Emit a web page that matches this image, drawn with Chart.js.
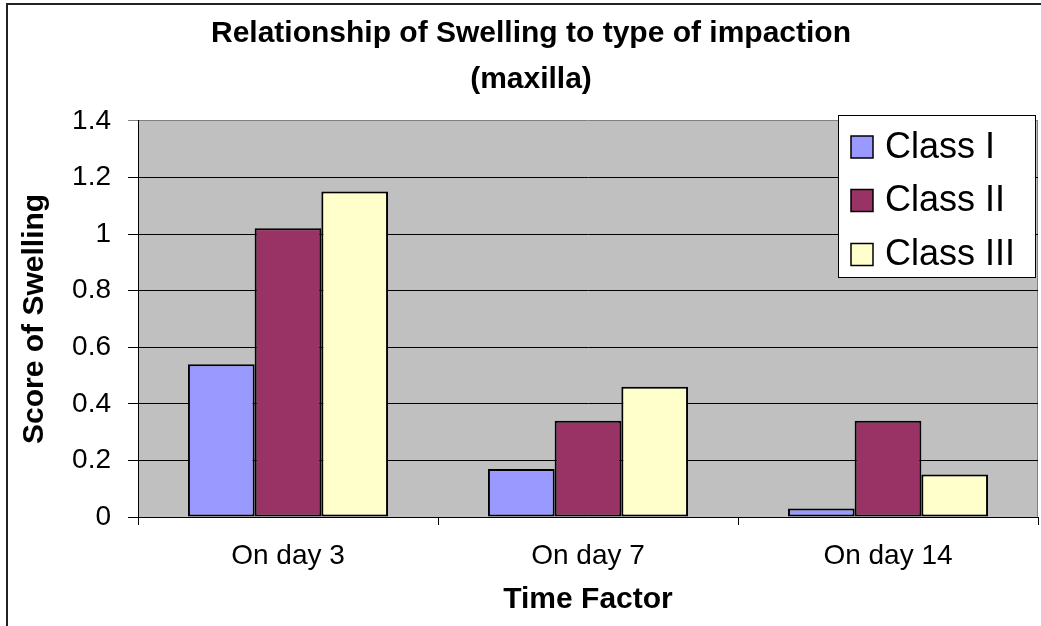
<!DOCTYPE html>
<html lang="en">
<head>
  <meta charset="UTF-8" />
  <title>Relationship of Swelling to type of impaction (maxilla)</title>
  <script src="https://cdn.jsdelivr.net/npm/chart.js"></script>
  <style>
    html, body { margin: 0; padding: 0; background: #fff; }
    .wrap { width: 1041px; height: 626px; position: relative; }
  </style>
</head>
<body>
  <div class="wrap"><canvas id="swellingChart"></canvas></div>

  <script>
    // data
    const days = ['On day 3', 'On day 7', 'On day 14'];
    const classNames = ['Class I', 'Class II', 'Class III'];
    const classI = [0.54, 0.17, 0.03];
    const classII = [1.02, 0.34, 0.34];
    const classIII = [1.15, 0.46, 0.15];
    const classColors = ['#9999FF', '#993366', '#FFFFCC'];

    const FONT = '"Liberation Sans", Arial, sans-serif';

    // grey plot area + outer frame
    const plotBackground = {
      id: 'plotBackground',
      beforeDraw(chart) {
        const { ctx, chartArea: a } = chart;
        ctx.save();
        ctx.fillStyle = '#C0C0C0';
        ctx.fillRect(a.left, a.top, a.right - a.left, a.bottom - a.top);
        ctx.strokeStyle = '#808080';
        ctx.lineWidth = 1;
        ctx.beginPath();
        ctx.moveTo(a.right - 0.5, a.top);
        ctx.lineTo(a.right - 0.5, a.bottom);
        ctx.stroke();
        ctx.fillStyle = '#222';
        ctx.fillRect(6, 3, 1041, 2);
        ctx.fillRect(6, 3, 2, 626);
        ctx.restore();
      }
    };

    // Excel style legend box sitting over the plot
    const boxLegend = {
      id: 'boxLegend',
      afterDraw(chart) {
        const { ctx } = chart;
        const rows = [147, 200.5, 254.5];
        ctx.save();
        ctx.fillStyle = '#fff';
        ctx.fillRect(838, 115, 197, 162);
        ctx.strokeStyle = '#000';
        ctx.lineWidth = 1;
        ctx.strokeRect(838.5, 115.5, 197, 162);
        ctx.font = '36px ' + FONT;
        ctx.textBaseline = 'middle';
        chart.data.datasets.forEach((ds, i) => {
          const y = rows[i];
          ctx.fillStyle = ds.backgroundColor;
          ctx.fillRect(851, y - 11, 22, 22);
          ctx.lineWidth = 1.5;
          ctx.strokeStyle = '#000';
          ctx.strokeRect(851, y - 11, 22, 22);
          ctx.fillStyle = '#000';
          ctx.fillText(ds.label, 885, y + 1);
        });
        ctx.restore();
      }
    };

    const series = [classI, classII, classIII];

    new Chart(document.getElementById('swellingChart'), {
      type: 'bar',
      data: {
        labels: days,
        datasets: series.map((vals, i) => ({
          label: classNames[i],
          data: vals,
          backgroundColor: classColors[i],
          borderColor: '#000',
          borderWidth: 2,
          borderSkipped: false,
          categoryPercentage: 0.667,
          barPercentage: 1
        }))
      },
      options: {
        responsive: true,
        maintainAspectRatio: false,
        animation: false,
        layout: { padding: { left: 24, right: 3, top: 0, bottom: 0 } },
        plugins: {
          legend: { display: false },
          tooltip: { enabled: false },
          title: {
            display: true,
            text: ['Relationship of Swelling to type of impaction', '(maxilla)'],
            color: '#000',
            font: { family: FONT, size: 30, weight: 'bold', lineHeight: 1.53 },
            padding: { top: 11, bottom: 18 }
          }
        },
        scales: {
          x: {
            afterFit(scale) { scale.height = 109; },
            grid: {
              display: true,
              offset: true,
              drawOnChartArea: false,
              drawTicks: true,
              tickLength: 8,
              color: '#000'
            },
            border: { display: true, color: '#000', width: 1 },
            ticks: {
              color: '#000',
              padding: 14,
              font: { family: FONT, size: 28 }
            },
            title: {
              display: true,
              text: 'Time Factor',
              color: '#000',
              font: { family: FONT, size: 30, weight: 'bold' },
              padding: { top: 8, bottom: 8 }
            }
          },
          y: {
            min: 0,
            max: 1.4,
            afterFit(scale) { scale.width = 114; },
            ticks: {
              stepSize: 0.2,
              color: '#000',
              padding: 17,
              font: { family: FONT, size: 28 },
              callback: v => Math.round(v * 10) / 10
            },
            grid: {
              color: c => (c.tick && c.tick.value >= 1.39 ? '#808080' : '#000'),
              lineWidth: 1,
              tickLength: 10
            },
            border: { display: true, color: '#000', width: 1 },
            title: {
              display: true,
              text: 'Score of Swelling',
              color: '#000',
              font: { family: FONT, size: 30, weight: 'bold' },
              padding: { top: -7, bottom: -7 }
            }
          }
        }
      },
      plugins: [plotBackground, boxLegend]
    });
  </script>
</body>
</html>
